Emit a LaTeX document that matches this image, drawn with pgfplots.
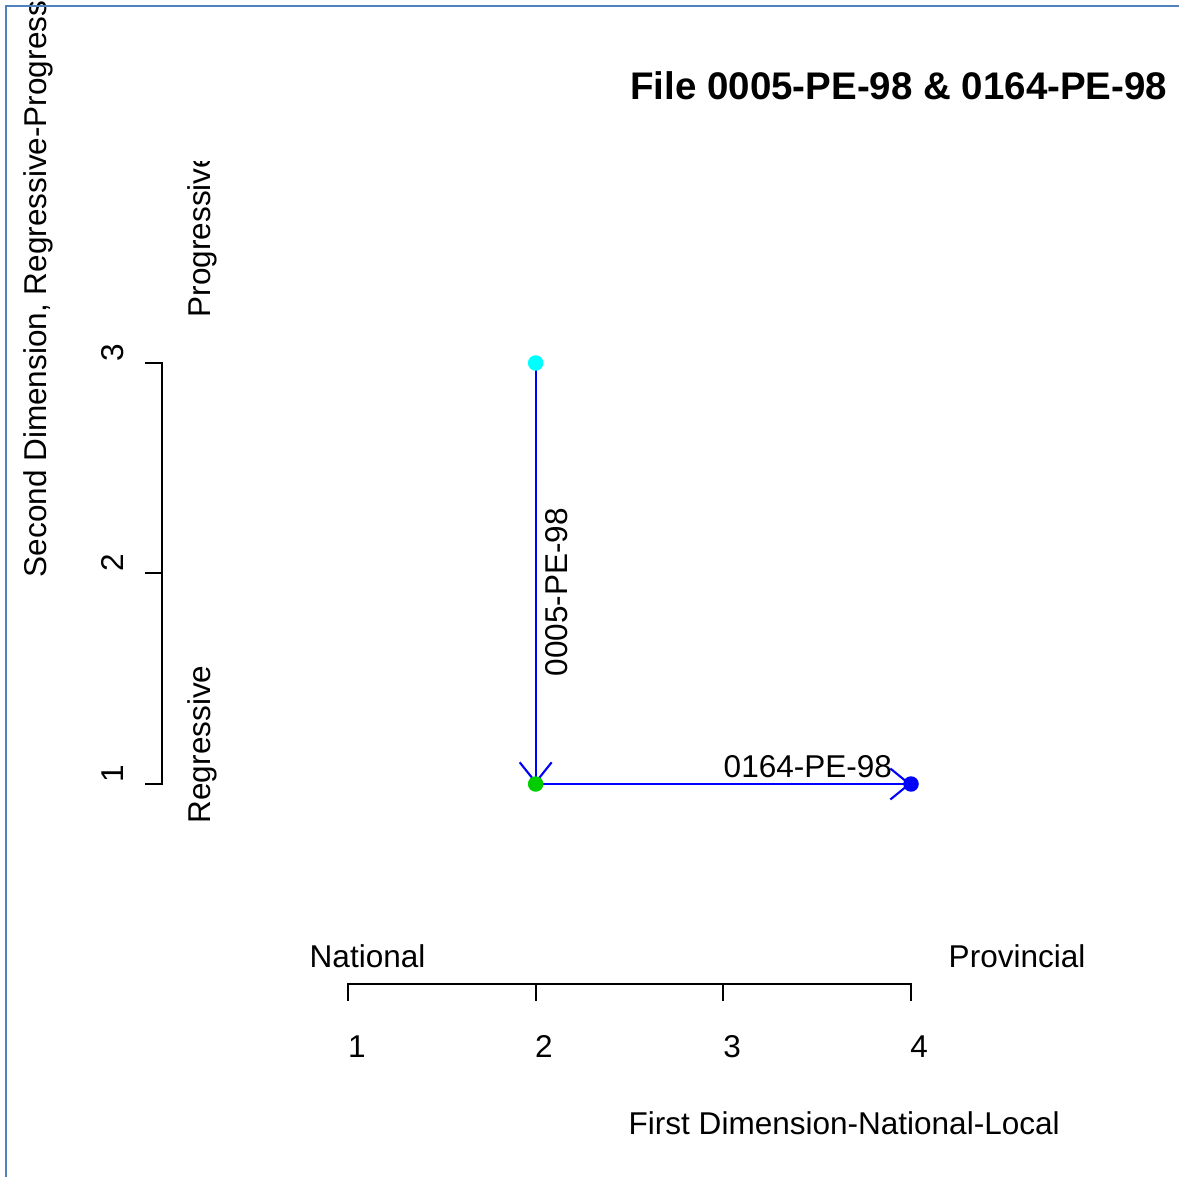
\documentclass[border=0pt]{standalone}
\usepackage{pgfplots}
\pgfplotsset{compat=1.18}
\usepackage{fontspec}
\setmainfont{Liberation Sans}
\usetikzlibrary{arrows.meta}
\definecolor{framecol}{RGB}{79,129,189}
\definecolor{ptgreen}{RGB}{0,205,0}
\definecolor{ptcyan}{RGB}{0,255,255}
\definecolor{ptblue}{RGB}{0,0,255}
\newcommand{\pxy}[2]{({#1/100},{(1177-#2)/100})}
\newcommand{\lab}{\fontsize{8.97}{10}\selectfont}
\begin{document}
\begin{tikzpicture}
\useasboundingbox (0,0) rectangle (11.79,11.77);
\fill[white] (0,0) rectangle (11.79,11.77);
\begin{scope}
\clip (0,0) rectangle (11.79,11.77);
\begin{axis}[at={(0,0)}, anchor=south west, width=11.79cm, height=11.77cm,
  scale only axis, axis lines=none,
  xmin=-0.85432, xmax=5.42800, ymin=-0.86698, ymax=4.72447, clip=false]
\addplot[only marks, mark=*, mark size=2pt, color=ptcyan] coordinates {(2,3)};
\addplot[only marks, mark=*, mark size=2pt, color=ptgreen] coordinates {(2,1)};
\addplot[only marks, mark=*, mark size=2pt, color=ptblue] coordinates {(4,1)};
\addplot[ptblue, line width=0.6pt, -{Straight Barb[length=0.2cm, width=0.32cm, line width=0.6pt]}] coordinates {(2,3) (2,1)};
\addplot[ptblue, line width=0.6pt, -{Straight Barb[length=0.19cm, width=0.31cm, line width=0.6pt]}] coordinates {(2,1) (4,1)};
\end{axis}
% axes
\draw[black, line width=0.5pt] \pxy{348}{1001} -- \pxy{348}{984} -- \pxy{911}{984} -- \pxy{911}{1001};
\draw[black, line width=0.5pt] \pxy{536}{984} -- \pxy{536}{1001};
\draw[black, line width=0.5pt] \pxy{723}{984} -- \pxy{723}{1001};
\draw[black, line width=0.5pt] \pxy{145}{363} -- \pxy{162}{363} -- \pxy{162}{784} -- \pxy{145}{784};
\draw[black, line width=0.5pt] \pxy{145}{573} -- \pxy{162}{573};
% x tick labels
\node[anchor=base, inner sep=0pt, font=\lab] at \pxy{357}{1057} {1};
\node[anchor=base, inner sep=0pt, font=\lab] at \pxy{544}{1057} {2};
\node[anchor=base, inner sep=0pt, font=\lab] at \pxy{732}{1057} {3};
\node[anchor=base, inner sep=0pt, font=\lab] at \pxy{919}{1057} {4};
% y tick labels
\node[rotate=90, anchor=base, inner sep=0pt, font=\lab] at \pxy{123}{353} {3};
\node[rotate=90, anchor=base, inner sep=0pt, font=\lab] at \pxy{123}{563} {2};
\node[rotate=90, anchor=base, inner sep=0pt, font=\lab] at \pxy{123}{774} {1};
% axis annotations
\node[anchor=base west, inner sep=0pt, font=\lab] at \pxy{309}{967} {National};
\node[anchor=base west, inner sep=0pt, font=\lab] at \pxy{948}{967} {Provincial};
\node[anchor=base west, inner sep=0pt, font=\lab] at \pxy{628}{1134} {First Dimension-National-Local};
\node[rotate=90, anchor=base west, inner sep=0pt, font=\lab] at \pxy{210}{824} {Regressive};
\begin{scope}
\clip (0,0) rectangle (11.79,10.15);
\node[rotate=90, anchor=base west, inner sep=0pt, font=\lab] at \pxy{210}{318} {Progressive};
\end{scope}
\node[rotate=90, anchor=base west, inner sep=0pt, font=\lab] at \pxy{46}{578} {Second Dimension, Regressive-Progressive};
% point labels
\node[rotate=90, anchor=base west, inner sep=0pt, font=\lab] at \pxy{567}{677} {0005-PE-98};
\node[anchor=base west, inner sep=0pt, font=\lab] at \pxy{723}{777} {0164-PE-98};
% title
\node[anchor=base east, inner sep=0pt, font=\fontsize{10.95}{12}\selectfont\bfseries] at \pxy{1168}{100} {File 0005-PE-98 \& 0164-PE-98};
% frame
\draw[framecol, line width=0.02cm] \pxy{5}{6} -- \pxy{1179}{6};
\draw[framecol, line width=0.02cm] \pxy{6}{5} -- \pxy{6}{1177};
\end{scope}
\end{tikzpicture}
\end{document}
